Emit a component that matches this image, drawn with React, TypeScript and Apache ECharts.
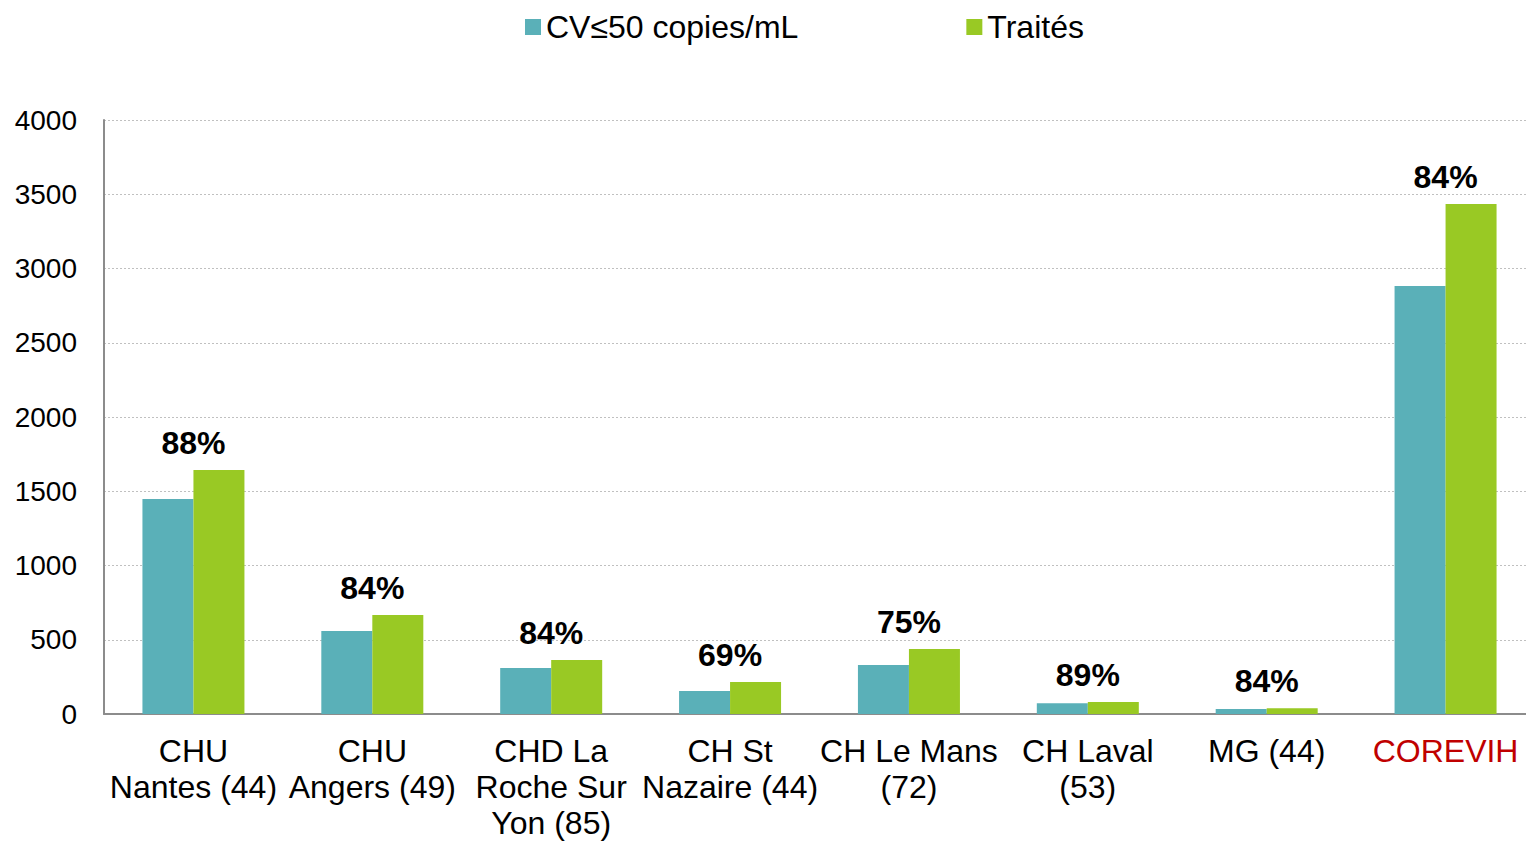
import React, { useEffect, useRef } from "react";
import * as echarts from "echarts";

const categories = [
  "CHU\nNantes (44)",
  "CHU\nAngers (49)",
  "CHD La\nRoche Sur\nYon (85)",
  "CH St\nNazaire (44)",
  "CH Le Mans\n(72)",
  "CH Laval\n(53)",
  "MG (44)",
  "COREVIH",
];
const cvValues = [1448, 559, 310, 155, 330, 72, 34, 2882];
const traitesValues = [1643, 667, 364, 215, 438, 81, 38, 3434];
const percentLabels = ["88%", "84%", "84%", "69%", "75%", "89%", "84%", "84%"];
const yTicks = { min: 0, max: 4000, interval: 500 };

const FONT = "'Liberation Sans', Arial, sans-serif";

export default function App() {
  const ref = useRef<HTMLDivElement>(null);
  useEffect(() => {
    if (!ref.current) return;
    const chart = echarts.init(ref.current, undefined, { renderer: "svg" });
    chart.setOption({
      animation: false,
      textStyle: { fontFamily: FONT },
      legend: {
        left: 520,
        top: 6,
        itemWidth: 16,
        itemHeight: 16,
        itemGap: 168,
        icon: "rect",
        textStyle: { fontSize: 32, color: "#000", fontFamily: FONT },
        data: ["CV≤50 copies/mL", "Traités"],
      },
      grid: {
        left: 104,
        top: 120,
        width: 1431,
        height: 594,
        containLabel: false,
        outerBoundsMode: "none",
      },
      xAxis: {
        type: "category",
        data: categories,
        axisLine: { show: true, lineStyle: { color: "#8c8c8c", width: 2 } },
        axisTick: { show: false },
        axisLabel: {
          interval: 0,
          margin: 19,
          fontSize: 32,
          lineHeight: 36,
          fontFamily: FONT,
          color: (value: string) => (value === "COREVIH" ? "#C00000" : "#000"),
        },
      },
      yAxis: {
        type: "value",
        min: yTicks.min,
        max: yTicks.max,
        interval: yTicks.interval,
        axisLine: { show: true, lineStyle: { color: "#8c8c8c", width: 2 } },
        axisTick: { show: false },
        axisLabel: {
          fontSize: 28,
          color: "#000",
          margin: 27,
          fontFamily: FONT,
          formatter: (v: number) => String(v),
        },
        splitLine: { show: true, lineStyle: { color: "#c0c0c0", type: [2, 2], width: 1 } },
      },
      series: [
        {
          name: "CV≤50 copies/mL",
          type: "bar",
          data: cvValues,
          barWidth: 51,
          barGap: "0%",
          itemStyle: { color: "#5AB0B8" },
        },
        {
          name: "Traités",
          type: "bar",
          data: traitesValues,
          barWidth: 51,
          barGap: "0%",
          itemStyle: { color: "#99C924" },
          label: {
            show: true,
            position: "top",
            distance: 11,
            offset: [-25.5, 0],
            fontSize: 32,
            fontWeight: "bold",
            color: "#000",
            fontFamily: FONT,
            formatter: (p: any) => percentLabels[p.dataIndex],
          },
        },
      ],
    });
    return () => chart.dispose();
  }, []);
  return <div ref={ref} style={{ width: 1526, height: 842, position: "absolute", left: 0, top: 0 }} />;
}
